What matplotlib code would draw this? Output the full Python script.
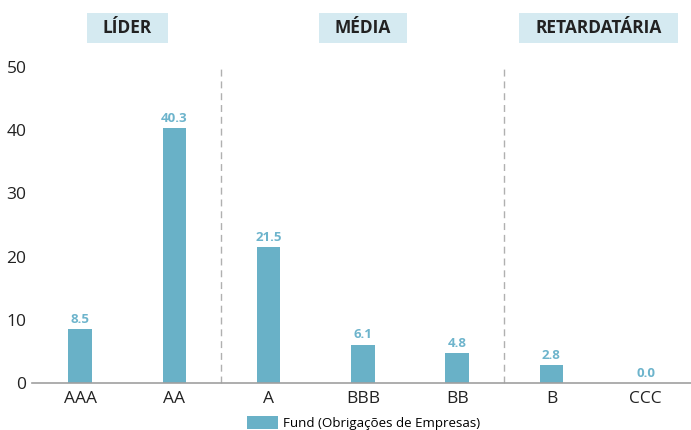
import matplotlib.pyplot as plt
from matplotlib.patches import Patch, Rectangle

plt.rcParams['font.family'] = ['Open Sans', 'DejaVu Sans']

categories = ['AAA', 'AA', 'A', 'BBB', 'BB', 'B', 'CCC']
values = [8.5, 40.3, 21.5, 6.1, 4.8, 2.8, 0.0]
groups = ['LÍDER', 'MÉDIA', 'RETARDATÁRIA']
group_centers = [0.5, 3.0, 5.5]
dividers = [1.5, 4.5]
series_name = 'Fund (Obrigações de Empresas)'

bar_color = '#69b1c7'
label_color = '#6db4cc'
box_color = '#d5eaf1'

fig = plt.figure(figsize=(6.91, 4.30), dpi=100)
ax = fig.add_axes([0.0463, 0.109, 0.9537, 0.735])

x = range(len(categories))
ax.bar(x, values, width=0.25, color=bar_color, zorder=2)
for xi, v in zip(x, values):
    ax.text(xi, v + 0.5, f'{v:.1f}', ha='center', va='bottom',
            fontsize=9.5, fontweight='bold', color=label_color)

for d in dividers:
    ax.axvline(d, ymin=0, ymax=1.005, color='#b0b0b0', linestyle=(0, (5, 3.5)),
               linewidth=1, clip_on=False, zorder=1)

ax.set_xlim(-0.51, 6.48)
ax.set_ylim(0, 50)
ax.set_yticks([0, 10, 20, 30, 40, 50])
ax.set_xticks(list(x))
ax.set_xticklabels(categories)
ax.tick_params(axis='both', length=0, labelsize=12.5, colors='#222222')
ax.tick_params(axis='y', pad=4)
ax.tick_params(axis='x', pad=6)
for s in ['top', 'right', 'left']:
    ax.spines[s].set_visible(False)
ax.spines['bottom'].set_color('#a0a0a0')
ax.spines['bottom'].set_linewidth(1.2)

# group headers with light boxes sized from the rendered text
fig.canvas.draw()
renderer = fig.canvas.get_renderer()
W, H = fig.get_size_inches() * fig.dpi
for name, c in zip(groups, group_centers):
    xc = ax.transData.transform((c, 0))[0]
    t = fig.text(xc / W, 1 - 28 / H, name, ha='center', va='center',
                 fontsize=12.5, fontweight='bold', color='#222222', zorder=3)
    bb = t.get_window_extent(renderer)
    fig.add_artist(Rectangle(((bb.x0 - 16) / W, 1 - 43 / H),
                             (bb.width + 32) / W, 30 / H,
                             transform=fig.transFigure, facecolor=box_color,
                             edgecolor='none', zorder=2))

fig.legend(handles=[Patch(facecolor=bar_color, label=series_name)],
           loc='lower center', bbox_to_anchor=(0.526, -0.028), frameon=False,
           fontsize=9.6, handlelength=2.3, handleheight=1.1,
           handletextpad=0.35)

fig.savefig('out.png', dpi=100)
